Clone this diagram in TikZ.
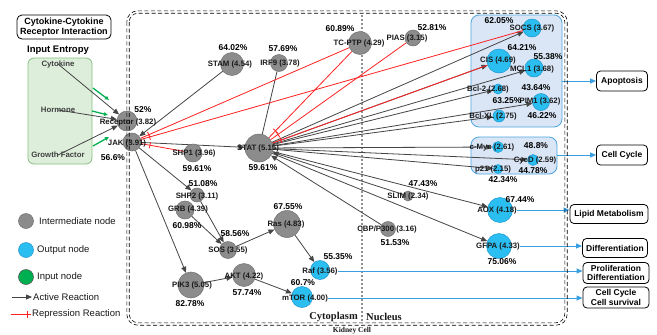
\documentclass[tikz,border=0pt]{standalone}
\usepackage{fontspec}
\setmainfont{Liberation Sans}
\newfontfamily\serifx{Liberation Serif}
\usetikzlibrary{arrows.meta,decorations.markings}
\pgfdeclarelayer{back}
\pgfdeclarelayer{edge}
\pgfsetlayers{back,edge,main}
\definecolor{gnode}{HTML}{8C8C8C}
\definecolor{gline}{HTML}{707070}
\definecolor{bnode}{HTML}{2BBEF0}
\definecolor{bline}{HTML}{1E96D0}
\definecolor{gin}{HTML}{00B050}
\definecolor{act}{HTML}{454545}
\definecolor{rep}{HTML}{FF2020}
\definecolor{outc}{HTML}{3A9FE0}
\definecolor{txt}{HTML}{1A1A1A}
\definecolor{abox}{HTML}{DAE6F6}
\definecolor{aline}{HTML}{4DA6E0}
\definecolor{ibox}{HTML}{DDEEDB}
\definecolor{iline}{HTML}{86C27E}
\definecolor{divc}{HTML}{909090}
\tikzset{
  gn/.style={circle,fill=gnode,draw=gline,line width=0.5pt,inner sep=0pt,minimum size=#1},
  bn/.style={circle,fill=bnode,draw=bline,line width=0.5pt,inner sep=0pt,minimum size=#1},
  lbl/.style={font=\fontsize{7.8}{9}\selectfont\bfseries,text=txt,inner sep=0pt},
  pct/.style={font=\fontsize{8.5}{10}\selectfont\bfseries,text=black,inner sep=0pt},
  actv/.style={draw=act,line width=0.8pt,-{Triangle[length=6pt,width=5pt]}},
  repr/.style={draw=rep,line width=0.8pt,postaction={decorate,decoration={markings,mark=at position -9pt with {\draw[draw=rep,line width=0.8pt] (0pt,-3pt) -- (0pt,3pt);}}}},
  legrep/.style={draw=rep,line width=0.9pt,postaction={decorate,decoration={markings,mark=at position -4pt with {\draw[draw=rep,line width=0.9pt] (0pt,-3.5pt) -- (0pt,3.5pt);}}}},
  outa/.style={draw=outc,line width=1pt,-{Triangle[length=6pt,width=5pt]}},
  grn/.style={draw=gin,line width=1.3pt,-{Latex[length=4pt,width=4.5pt]}},
  obox/.style={draw=black,fill=white,rounded corners=4pt,line width=0.8pt,font=\fontsize{8.5}{9.5}\selectfont\bfseries,align=center,inner sep=1pt},
  grp/.style={fill=abox,draw=aline,line width=0.8pt,rounded corners=8pt,inner sep=0pt},
  cellb/.style={draw=black,line width=0.6pt,dash pattern=on 4pt off 2.5pt},
  leg/.style={font=\fontsize{9.5}{11}\selectfont,text=txt,inner sep=0pt,anchor=west},
  inl/.style={font=\fontsize{7.8}{9}\selectfont\bfseries,text=black!75,inner sep=0pt},
  regl/.style={font=\serifx\fontsize{10.5}{12}\selectfont\bfseries,text=txt,inner sep=0pt},
}
\begin{document}
\begin{tikzpicture}[x=1pt,y=-1pt]
\useasboundingbox (0,0) rectangle (657,335);

% background boxes
\begin{pgfonlayer}{back}
\fill[white] (0,0) rectangle (657,335);
\node[draw=black,line width=0.8pt,rounded corners=5pt,minimum width=94pt,minimum height=24pt,align=center,font=\fontsize{9}{10}\selectfont\bfseries,inner sep=0pt] (cci) at (64,27) {Cytokine-Cytokine\\Receptor Interaction};
\node[font=\fontsize{9.5}{11}\selectfont\bfseries,inner sep=0pt] (ient) at (58,50) {Input Entropy};
\node[fill=ibox,draw=iline,line width=0.8pt,rounded corners=6pt,minimum width=64pt,minimum height=106pt,inner sep=0pt] (inbox) at (60,111) {};
\node[grp,minimum width=91pt,minimum height=112pt] (apobox) at (516.5,71) {};
\node[grp,minimum width=86pt,minimum height=37pt] (ccbox) at (514,155.5) {};
\draw[divc,line width=1.6pt,dash pattern=on 1.6pt off 2.4pt] (362,15) -- (362,323);
\end{pgfonlayer}

% input labels
\node[inl] (cyt) at (58,64) {Cytokine};
\node[inl] (hor) at (58,110) {Hormone};
\node[inl] (gf) at (58,155) {Growth Factor};

% circles: intermediate
\node[gn=20pt] (rec) at (127,121) {};
\node[gn=18pt] (jak) at (132,142) {};
\node[gn=23pt] (stam) at (232,64) {};
\node[gn=17pt] (irf) at (279,63) {};
\node[gn=23pt] (tcptp) at (360,43) {};
\node[gn=16pt] (pias) at (413,38) {};
\node[gn=28pt] (stat) at (259,148) {};
\node[gn=18pt] (shp1) at (193,153) {};
\node[gn=14pt] (shp2) at (197,195) {};
\node[gn=18pt] (grb) at (185,210) {};
\node[gn=17pt] (sos) at (228,250) {};
\node[gn=27pt] (ras) at (287,224) {};
\node[gn=26pt] (pik) at (191,285) {};
\node[gn=23pt] (akt) at (244,275) {};
\node[gn=15pt] (cbp) at (388,229) {};
\node[gn=10pt] (slim) at (408,196) {};
% circles: output
\node[bn=19pt] (raf) at (320,270) {};
\node[bn=21pt] (mtor) at (302,297) {};
\node[bn=18pt] (socs) at (532,28) {};
\node[bn=24pt] (cis) at (499,61) {};
\node[bn=18pt] (mcl) at (534,68) {};
\node[bn=10pt] (bcl2) at (498,89) {};
\node[bn=17pt] (pim) at (541,102) {};
\node[bn=12pt] (bclxl) at (499,116) {};
\node[bn=11pt] (myc) at (498,147) {};
\node[bn=11pt] (cycd) at (533,160) {};
\node[bn=9pt] (p21) at (498,169) {};
\node[bn=25pt] (aox) at (500,210) {};
\node[bn=25pt] (gfpa) at (499,246) {};

% legend
\node[gn=15pt] (lgi) at (26,221) {};
\node[bn=15pt] (lgo) at (26,250) {};
\node[circle,fill=gin,draw=black!70,line width=0.5pt,minimum size=15pt,inner sep=0pt] (lgn) at (26,277) {};
\node[leg] (lgit) at (39,221) {Intermediate node};
\node[leg] (lgot) at (37,250) {Output node};
\node[leg] (lgnt) at (37,277) {Input node};
\coordinate (laa) at (12,297); \coordinate (lab) at (32,297);
\coordinate (lra) at (11,314); \coordinate (lrb) at (31,314);
\node[leg] (lat) at (33,297) {Active Reaction};
\node[leg] (lrt) at (32,314) {Repression Reaction};

% outcome boxes
\node[obox,minimum width=51pt,minimum height=20pt] (apo) at (622,81) {Apoptosis};
\node[obox,minimum width=51pt,minimum height=20pt] (ccy) at (622,155) {Cell Cycle};
\node[obox,minimum width=78pt,minimum height=19pt] (lip) at (609,214) {Lipid Metabolism};
\node[obox,minimum width=65pt,minimum height=19pt] (dif) at (615,248) {Differentiation};
\node[obox,minimum width=66pt,minimum height=21pt] (pro) at (616,273) {Proliferation\\Differentiation};
\node[obox,minimum width=66pt,minimum height=21pt] (ccs) at (616,297.5) {Cell Cycle\\Cell survival};

% green input arrows
\coordinate (g1a) at (93,88); \coordinate (g1b) at (109,100);
\coordinate (g2a) at (92,111); \coordinate (g2b) at (108,115);
\coordinate (g3a) at (93,146); \coordinate (g3b) at (109,137);

% node labels
\node[lbl] (rec-l) at (128,122) {Receptor (3.82)};
\node[pct] (rec-p) at (143,110) {52\%};
\node[lbl] (jak-l) at (127,143) {JAK (3.91)};
\node[pct] (jak-p) at (113,158) {56.6\%};
\node[lbl] (stam-l) at (230,64) {STAM (4.54)};
\node[pct] (stam-p) at (233,48) {64.02\%};
\node[lbl] (irf-l) at (280,63) {IRF9 (3.78)};
\node[pct] (irf-p) at (283,49) {57.69\%};
\node[lbl] (tcptp-l) at (359,43) {TC-PTP (4.29)};
\node[pct] (tcptp-p) at (340,29) {60.89\%};
\node[lbl] (pias-l) at (407,38) {PIAS (3.15)};
\node[pct] (pias-p) at (432,28) {52.81\%};
\node[lbl] (stat-l) at (258,148) {STAT (5.15)};
\node[pct] (stat-p) at (263,168) {59.61\%};
\node[lbl] (shp1-l) at (194,153) {SHP1 (3.96)};
\node[pct] (shp1-p) at (197,169) {59.61\%};
\node[lbl] (shp2-l) at (197,196) {SHP2 (3.11)};
\node[pct] (shp2-p) at (203,184) {51.08\%};
\node[lbl] (grb-l) at (188,209) {GRB (4.39)};
\node[pct] (grb-p) at (187,226) {60.98\%};
\node[lbl] (sos-l) at (228,250) {SOS (3.55)};
\node[pct] (sos-p) at (235,234) {58.56\%};
\node[lbl] (ras-l) at (286,224) {Ras (4.83)};
\node[pct] (ras-p) at (288,207) {67.55\%};
\node[lbl] (pik-l) at (192,285) {PIK3 (5.05)};
\node[pct] (pik-p) at (190,304) {82.78\%};
\node[lbl] (akt-l) at (244,276) {AKT (4.22)};
\node[pct] (akt-p) at (247,293) {57.74\%};
\node[lbl] (cbp-l) at (387,229) {CBP/P300 (3.16)};
\node[pct] (cbp-p) at (395,243) {51.53\%};
\node[lbl] (slim-l) at (408,196) {SLIM (2.34)};
\node[pct] (slim-p) at (423,184) {47.43\%};
\node[lbl] (raf-l) at (320,271) {Raf (3.56)};
\node[pct] (raf-p) at (338,257) {55.35\%};
\node[lbl] (mtor-l) at (305,298) {mTOR (4.00)};
\node[pct] (mtor-p) at (303,283) {60.7\%};
\node[lbl] (socs-l) at (532,28) {SOCS (3.67)};
\node[pct] (socs-p) at (499,21) {62.05\%};
\node[lbl] (cis-l) at (498,60) {CIS (4.69)};
\node[pct] (cis-p) at (522,48) {64.21\%};
\node[lbl] (mcl-l) at (532,69) {MCL1 (3.68)};
\node[pct] (mcl-p) at (548,57) {55.38\%};
\node[lbl] (bcl2-l) at (488,89) {Bcl-2 (2.68)};
\node[pct] (bcl2-p) at (536,88) {43.64\%};
\node[lbl] (pim-l) at (540,101) {PIM1 (3.62)};
\node[pct] (pim-p) at (507,101) {63.25\%};
\node[lbl] (bclxl-l) at (493,116) {Bcl-XL (2.75)};
\node[pct] (bclxl-p) at (542,116) {46.22\%};
\node[lbl] (myc-l) at (492,147) {c-Myc (2.61)};
\node[pct] (myc-p) at (536,146) {48.8\%};
\node[lbl] (cycd-l) at (535,160) {CycD (2.59)};
\node[pct] (cycd-p) at (533,171) {44.78\%};
\node[lbl] (p21-l) at (493,169) {p21 (2.15)};
\node[pct] (p21-p) at (503,180) {42.34\%};
\node[lbl] (aox-l) at (497,210) {AOX (4.18)};
\node[pct] (aox-p) at (520,200) {67.44\%};
\node[lbl] (gfpa-l) at (498,246) {GFPA (4.33)};
\node[pct] (gfpa-p) at (502,262) {75.06\%};

% region labels
\node[regl,anchor=east] (cyto) at (358,317) {Cytoplasm};
\node[regl,anchor=west] (nucl) at (366,317) {Nucleus};
\node[regl,font=\serifx\fontsize{7.5}{8}\selectfont\bfseries] (kid) at (352,330.5) {Kidney Cell};

% cell boundary (double dashed)
\draw[cellb,rounded corners=11pt] (126.8,10.8) rectangle (567.2,325.2);
\draw[cellb,rounded corners=9pt] (129.2,13.2) rectangle (564.8,322.8);

% edges
\begin{pgfonlayer}{edge}
\draw[actv] (cyt.center) -- (rec);
\draw[actv] (hor.center) -- (rec);
\draw[actv] (gf.center) -- (rec);
\draw[grn] (g1a) -- (g1b);
\draw[grn] (g2a) -- (g2b);
\draw[grn] (g3a) -- (g3b);
\draw[actv] (stam) -- (jak);
\draw[draw=act,line width=0.8pt] (irf) -- (stat);
\draw[actv] (jak) -- (stat);
\draw[actv] (jak) -- (shp2);
\draw[actv] (jak) -- (pik);
\draw[actv] (shp2) -- (sos);
\draw[actv] (grb) -- (sos);
\draw[actv] (sos) -- (ras);
\draw[actv] (ras) -- (raf);
\draw[actv] (pik) -- (akt);
\draw[actv] (akt) -- (mtor);
\foreach \t in {socs,cis,mcl,bcl2,pim,bclxl,myc,cycd,p21,aox,gfpa}
  \draw[actv] (stat) -- (\t);
\draw[actv] (slim) -- (stat);
\draw[actv] (cbp) -- (stat);
\draw[repr] (tcptp) -- (jak);
\draw[repr] (socs) -- (jak);
\draw[repr] (shp1) -- (jak);
\draw[repr] (tcptp) -- (stat);
\draw[repr] (pias) -- (stat);
\draw[repr] (cis) -- (stat);
\draw[outa] (apobox.east |- apo.west) -- (apo.west);
\draw[outa] (ccbox.east |- ccy.west) -- (ccy.west);
\draw[outa] (aox-l.east) -- (aox-l.east -| lip.west);
\draw[outa] (gfpa-l.east) -- (gfpa-l.east -| dif.west);
\draw[outa] (raf-l.east) -- (raf-l.east -| pro.west);
\draw[outa] (mtor-l.east) -- (mtor-l.east -| ccs.west);
\draw[actv] (laa) -- (lab);
\draw[legrep] (lra) -- (lrb);
\end{pgfonlayer}
\end{tikzpicture}
\end{document}
